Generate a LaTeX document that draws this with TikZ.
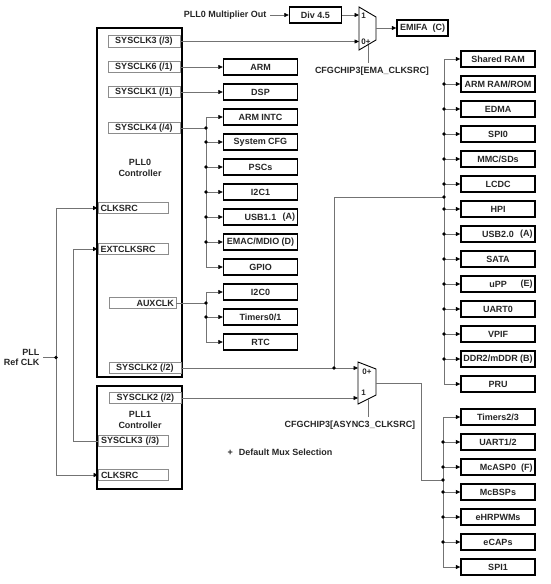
\documentclass[tikz,border=0pt]{standalone}
\usepackage{fontspec}
\setmainfont{Liberation Sans}
\usetikzlibrary{arrows.meta}
\tikzset{
	every node/.style={font=\fontsize{9}{10.5}\selectfont\bfseries, text=black!85},
	conn/.style={draw=black!55, line width=0.6pt},
	arr/.style={-{Triangle[length=4.5pt,width=4pt,color=black]}},
	blk/.style={draw=black, line width=1.4pt, minimum width=74pt, minimum height=16pt, inner sep=0pt},
	ctrl/.style={draw=black, line width=1.5pt, inner sep=0pt},
	clkbox/.style={draw=black!45, line width=0.7pt, minimum width=72pt, minimum height=11.5pt, inner sep=0pt},
	srcbox/.style={clkbox, minimum width=0pt, text width=65pt, inner xsep=2.5pt, align=left},
	muxlbl/.style={font=\fontsize{8}{9}\selectfont\bfseries, inner sep=0pt},
	sfx/.style={label={[anchor=east, inner xsep=3pt]east:{#1}}}
}
\begin{document}
\begin{tikzpicture}[x=1pt, y=-1pt]
		\useasboundingbox (0,0) rectangle (550,584);
		
		%%%%% PLL0 %%%%%
		\node[ctrl, minimum width=85pt, minimum height=349pt] (pll0) at (139.5,202.5) {};
		\node[align=center] (pll0lbl) at (140,168) {PLL0\\Controller};
		\node[clkbox] (sysclk3) at (144,41.5) {SYSCLK3 (/3)};
		\node[clkbox] (sysclk6) at (144,67) {SYSCLK6 (/1)};
		\node[clkbox] (sysclk1) at (144,92) {SYSCLK1 (/1)};
		\node[clkbox] (sysclk4) at (144,128) {SYSCLK4 (/4)};
		\node[srcbox] (clksrc0) at (133,208) {CLKSRC};
		\node[srcbox] (extclk) at (133,249) {EXTCLKSRC};
		\node[clkbox, minimum width=0pt, text width=63pt, inner xsep=2pt, align=right] (auxclk) at (142.5,303) {AUXCLK};
		\node[clkbox] (sysclk2a) at (145,368) {SYSCLK2 (/2)};
		
		%%%%% PLL1 %%%%%
		\node[ctrl, minimum width=85pt, minimum height=103pt] (pll1) at (139.5,437.5) {};
		\node[align=center] (pll1lbl) at (140,420) {PLL1\\Controller};
		\node[clkbox] (sysclk2b) at (145.5,398) {SYSCLK2 (/2)};
		\node[srcbox] (sysclk3b) at (133.5,441) {SYSCLK3 (/3)};
		\node[srcbox] (clksrc1) at (133.5,475) {CLKSRC};
		
		\node[align=right, anchor=east] (refclk) at (43,357.5) {PLL\\Ref CLK};
		\coordinate (refj) at (56,357.5);
		\coordinate (extj) at (73,441);
		
		%%%%% EMA mux %%%%%
		\node[anchor=east] (mulout) at (270,15) {PLL0 Multiplier Out};
		\node[blk, minimum width=52pt] (div) at (315.5,15) {Div 4.5};
		\draw[line width=0.9pt] (359,7) -- (376,17) -- (376,40) -- (359,50) -- cycle;
		\coordinate (emain1) at (359,15);
		\coordinate (emain0) at (359,41.5);
		\coordinate (emaout) at (376,28);
		\coordinate (emasel) at (368,44.7);
		\node[muxlbl] at (363.5,16) {1};
		\node[muxlbl] at (366,41.5) {0+};
		\node[blk, minimum width=51pt] (emifa) at (422.5,28) {EMIFA\hspace{5pt}(C)};
		\node (emalbl) at (372,71) {CFGCHIP3[EMA\_CLKSRC]};
		
		%%%%% ASYNC3 mux %%%%%
		\draw[line width=0.9pt] (358,362) -- (376,369) -- (376,395) -- (358,404) -- cycle;
		\coordinate (asyncin0) at (358,368);
		\coordinate (asyncin1) at (358,398);
		\coordinate (asyncout) at (376,383);
		\coordinate (asyncsel) at (368,399);
		\coordinate (asyncj) at (334,368);
		\node[muxlbl] at (367,372) {0+};
		\node[muxlbl] at (363.5,393) {1};
		\node (asynclbl) at (350,425) {CFGCHIP3[ASYNC3\_CLKSRC]};
		\node (muxnote) at (280,452) {+\hspace{6pt}Default Mux Selection};
		
		%%%%% SYSCLK4 / AUXCLK peripherals %%%%%
		\node[blk] (arm) at (260.5,67) {ARM};
		\node[blk] (dsp) at (260.5,92) {DSP};
		\node[blk] (intc) at (260.5,117) {ARM INTC};
		\node[blk] (syscfg) at (260.5,142) {System CFG};
		\node[blk] (pscs) at (260.5,167) {PSCs};
		\node[blk] (i2c1) at (260.5,192) {I2C1};
		\node[blk, sfx={(A)}] (usb11) at (260.5,217) {USB1.1};
		\node[blk] (emac) at (260.5,242) {EMAC/MDIO (D)};
		\node[blk] (gpio) at (260.5,267) {GPIO};
		\node[blk] (i2c0) at (260.5,292) {I2C0};
		\node[blk] (tmr01) at (260.5,317) {Timers0/1};
		\node[blk] (rtc) at (260.5,342) {RTC};
		\coordinate (busA) at (206,128);
		\coordinate (busB) at (206,303);
		
		%%%%% SYSCLK2 peripherals %%%%%
		\node[blk] (shram) at (498,59) {Shared RAM};
		\node[blk] (armram) at (498,84) {ARM RAM/ROM};
		\node[blk] (edma) at (498,109) {EDMA};
		\node[blk] (spi0) at (498,134) {SPI0};
		\node[blk] (mmc) at (498,159) {MMC/SDs};
		\node[blk] (lcdc) at (498,184) {LCDC};
		\node[blk] (hpi) at (498,209) {HPI};
		\node[blk, sfx={(A)}] (usb20) at (498,234) {USB2.0};
		\node[blk] (sata) at (498,259) {SATA};
		\node[blk, sfx={(E)}] (upp) at (498,284) {uPP};
		\node[blk] (uart0) at (498,309) {UART0};
		\node[blk] (vpif) at (498,334) {VPIF};
		\node[blk] (ddr) at (498,359) {DDR2/mDDR (B)};
		\node[blk] (pru) at (498,384) {PRU};
		\coordinate (busC) at (444,197);
		
		%%%%% ASYNC3 peripherals %%%%%
		\node[blk] (tmr23) at (498,417) {Timers2/3};
		\node[blk] (uart12) at (498,442) {UART1/2};
		\node[blk, label={[anchor=east, inner xsep=3pt, yshift=-1.5pt]east:{(F)}}] (mcasp) at (498,467) {McASP0};
		\node[blk] (mcbsp) at (498,492) {McBSPs};
		\node[blk] (ehrpwm) at (498,517) {eHRPWMs};
		\node[blk] (ecap) at (498,542) {eCAPs};
		\node[blk] (spi1) at (498,567) {SPI1};
		\coordinate (busD) at (443,480);
		
		%%%%% clock inputs %%%%%
		\draw[conn] (refclk.east) -- (refj);
		\draw[conn] (refj |- clksrc0) -- (refj |- clksrc1);
		\draw[conn,arr] (refj |- clksrc0) -- (clksrc0);
		\draw[conn,arr] (refj |- clksrc1) -- (clksrc1);
		\draw[conn,arr] (sysclk3b.west) -- (extj) -- (extj |- extclk) -- (extclk);
		\fill (refj) circle (1.8pt);
		
		%%%%% EMA mux wiring %%%%%
		\draw[conn,arr] (mulout.east) -- (div.west);
		\draw[conn,arr] (div.east) -- (emain1);
		\draw[conn,arr] (sysclk3.east) -- (emain0);
		\draw[conn,arr] (emaout) -- (emifa.west);
		\draw[conn] (emasel) -- (emasel |- emalbl.north);
		
		\draw[conn,arr] (sysclk6) -- (arm);
		\draw[conn,arr] (sysclk1) -- (dsp);
		
		%%%%% SYSCLK4 bus %%%%%
		\draw[conn] (sysclk4) -- (busA);
		\draw[conn] (busA |- intc) -- (busA |- gpio);
		\draw[conn,arr] (busA |- intc) -- (intc);
		\draw[conn,arr] (busA |- syscfg) -- (syscfg);
		\draw[conn,arr] (busA |- pscs) -- (pscs);
		\draw[conn,arr] (busA |- i2c1) -- (i2c1);
		\draw[conn,arr] (busA |- usb11) -- (usb11);
		\draw[conn,arr] (busA |- emac) -- (emac);
		\draw[conn,arr] (busA |- gpio) -- (gpio);
		\fill (busA) circle (1.8pt);
		\fill (busA |- syscfg) circle (1.8pt);
		\fill (busA |- pscs) circle (1.8pt);
		\fill (busA |- i2c1) circle (1.8pt);
		\fill (busA |- usb11) circle (1.8pt);
		\fill (busA |- emac) circle (1.8pt);
		
		%%%%% AUXCLK bus %%%%%
		\draw[conn] (auxclk) -- (busB);
		\draw[conn] (busB |- i2c0) -- (busB |- rtc);
		\draw[conn,arr] (busB |- i2c0) -- (i2c0);
		\draw[conn,arr] (busB |- tmr01) -- (tmr01);
		\draw[conn,arr] (busB |- rtc) -- (rtc);
		\fill (busB) circle (1.8pt);
		\fill (busB |- tmr01) circle (1.8pt);
		
		%%%%% ASYNC3 mux wiring %%%%%
		\draw[conn,arr] (sysclk2a) -- (asyncin0);
		\draw[conn,arr] (sysclk2b) -- (asyncin1);
		\draw[conn] (asyncj) |- (busC);
		\draw[conn] (asyncout) -- ++(45,0) |- (busD);
		\draw[conn] (asyncsel) -- (asyncsel |- asynclbl.north);
		\fill (asyncj) circle (1.8pt);
		
		%%%%% SYSCLK2 bus %%%%%
		\draw[conn] (busC |- shram) -- (busC |- pru);
		\draw[conn,arr] (busC |- shram) -- (shram);
		\draw[conn,arr] (busC |- armram) -- (armram);
		\draw[conn,arr] (busC |- edma) -- (edma);
		\draw[conn,arr] (busC |- spi0) -- (spi0);
		\draw[conn,arr] (busC |- mmc) -- (mmc);
		\draw[conn,arr] (busC |- lcdc) -- (lcdc);
		\draw[conn,arr] (busC |- hpi) -- (hpi);
		\draw[conn,arr] (busC |- usb20) -- (usb20);
		\draw[conn,arr] (busC |- sata) -- (sata);
		\draw[conn,arr] (busC |- upp) -- (upp);
		\draw[conn,arr] (busC |- uart0) -- (uart0);
		\draw[conn,arr] (busC |- vpif) -- (vpif);
		\draw[conn,arr] (busC |- ddr) -- (ddr);
		\draw[conn,arr] (busC |- pru) -- (pru);
		\fill (busC) circle (1.8pt);
		\fill (busC |- armram) circle (1.8pt);
		\fill (busC |- edma) circle (1.8pt);
		\fill (busC |- spi0) circle (1.8pt);
		\fill (busC |- mmc) circle (1.8pt);
		\fill (busC |- lcdc) circle (1.8pt);
		\fill (busC |- hpi) circle (1.8pt);
		\fill (busC |- usb20) circle (1.8pt);
		\fill (busC |- sata) circle (1.8pt);
		\fill (busC |- upp) circle (1.8pt);
		\fill (busC |- uart0) circle (1.8pt);
		\fill (busC |- vpif) circle (1.8pt);
		\fill (busC |- ddr) circle (1.8pt);
		
		%%%%% ASYNC3 bus %%%%%
		\draw[conn] (busD |- tmr23) -- (busD |- spi1);
		\draw[conn,arr] (busD |- tmr23) -- (tmr23);
		\draw[conn,arr] (busD |- uart12) -- (uart12);
		\draw[conn,arr] (busD |- mcasp) -- (mcasp);
		\draw[conn,arr] (busD |- mcbsp) -- (mcbsp);
		\draw[conn,arr] (busD |- ehrpwm) -- (ehrpwm);
		\draw[conn,arr] (busD |- ecap) -- (ecap);
		\draw[conn,arr] (busD |- spi1) -- (spi1);
		\fill (busD) circle (1.8pt);
		\fill (busD |- uart12) circle (1.8pt);
		\fill (busD |- mcasp) circle (1.8pt);
		\fill (busD |- mcbsp) circle (1.8pt);
		\fill (busD |- ehrpwm) circle (1.8pt);
		\fill (busD |- ecap) circle (1.8pt);
		
		%%%%% END %%%%%
	\end{tikzpicture}
\end{document}
